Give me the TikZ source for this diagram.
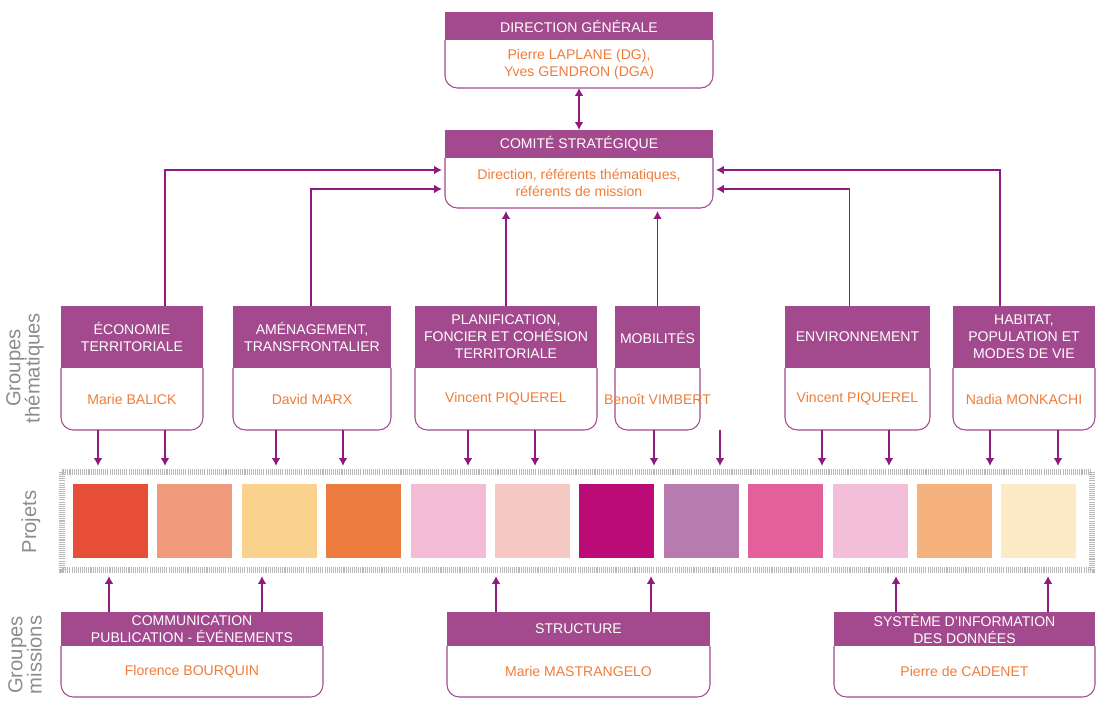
\documentclass[tikz,border=0pt]{standalone}
\usepackage{fontspec}
\setmainfont{Liberation Sans}
\usetikzlibrary{arrows.meta,calc}
\definecolor{mauve}{HTML}{A34A8E}
\definecolor{lien}{HTML}{8E1C7E}
\definecolor{orangep}{HTML}{EE7D3A}
\definecolor{grisl}{HTML}{8C8C8C}

% boite : nom, x gauche, x droite, haut, bas du titre, bas, titre, responsable
\newcommand{\orgbox}[8]{%
	\fill[mauve] (#2,#4) rectangle (#3,#5);
	\draw[mauve,line width=0.6pt,rounded corners=7pt] (#2,#5) -- (#2,#6) -- (#3,#6) -- (#3,#5);
	\node[head] at ({(#2+#3)/2},{(#4+#5)/2}) {#7};
	\node[who] at ({(#2+#3)/2},{(#5+#6)/2}) {#8};
	\coordinate (#1t) at ({(#2+#3)/2},#4);
	\coordinate (#1b) at ({(#2+#3)/2},#6);
	\coordinate (#1w) at (#2,{(#5+#6)/2});
	\coordinate (#1e) at (#3,{(#5+#6)/2});
}

\begin{document}
\begin{tikzpicture}[x=0.02cm,y=-0.02cm,>={Latex[length=4.5pt,width=5pt]},
	every node/.style={font=\fontsize{8}{9.6}\selectfont},
	head/.style={text=white,align=center},
	who/.style={text=orangep,align=center},
	arr/.style={lien,line width=1.1pt},
	side/.style={text=grisl,rotate=90,align=center,font=\fontsize{11.5}{11}\selectfont}]

\useasboundingbox (0,0) rectangle (1110,716);

%%%%%%%%%%%%%%%%%%%%%%%%%%%%%%%%%%%%%%

\orgbox{dg}{445}{713}{12}{40}{88}{DIRECTION GÉNÉRALE}{Pierre LAPLANE (DG),\\Yves GENDRON (DGA)}
\orgbox{cs}{445}{713}{130}{158}{208}{COMITÉ STRATÉGIQUE}{Direction, référents thématiques,\\référents de mission}

\draw[arr,<->] (dgb) -- (cst);

%%%%%%%%%%%%%%%%%%%%%%%%%%%%%%%%%%%%%%

\orgbox{t1}{61}{203}{306}{368}{430}{ÉCONOMIE\\TERRITORIALE}{Marie BALICK}
\orgbox{t2}{233}{391}{306}{368}{430}{AMÉNAGEMENT,\\TRANSFRONTALIER}{David MARX}
\orgbox{t3}{415}{597}{306}{368}{430}{PLANIFICATION,\\FONCIER ET COHÉSION\\TERRITORIALE}{Vincent PIQUEREL}
\orgbox{t4}{615}{700}{306}{368}{430}{MOBILITÉS}{Benoît VIMBERT}
\orgbox{t5}{785}{930}{306}{368}{430}{ENVIRONNEMENT}{Vincent PIQUEREL}
\orgbox{t6}{953}{1095}{306}{368}{430}{HABITAT,\\POPULATION  ET\\MODES DE VIE}{Nadia MONKACHI}

\draw[arr,->] ($(t1t)+(33,0)$) |- ($(csw)+(-3,-13)$);
\draw[arr,->] ($(t2t)+(-1,0)$) |- ($(csw)+(-3,6)$);
\draw[arr,->] (t3t) -- ($(t3t|-csb)+(0,3)$);
\draw[arr,->] (t4t) -- ($(t4t|-csb)+(0,3)$);
\draw[arr,->] ($(t5t)+(-8,0)$) |- ($(cse)+(3,6)$);
\draw[arr,->] ($(t6t)+(-24,0)$) |- ($(cse)+(3,-13)$);

%%%%%%%%%%%%%%%%%%%%%%%%%%%%%%%%%%%%%%

\draw[gray!55,line width=3pt,dash pattern=on 0.6pt off 0.6pt] (62,472) rectangle (1092,570);
\coordinate (pn) at (577,466);
\coordinate (ps) at (577,576);

\foreach \c [count=\i from 0] in {E64E37,EF9A7B,FAD28D,EC7B3F,F4BBD5,F6C8C4,BB0B77,B87BAF,E3609B,F3BED8,F5B27C,FDEBC7} {
	\definecolor{projet}{HTML}{\c}
	\fill[projet] ({73+84.4*\i},484) rectangle +(75,74);
}

\foreach \n/\a/\b in {t1/98/165,t2/276/343,t3/468/535,t4/654/720,t5/822/889,t6/990/1058} {
	\coordinate (xa) at (\a,0);
	\coordinate (xb) at (\b,0);
	\draw[arr,->] (\n b-|xa) -- (pn-|xa);
	\draw[arr,->] (\n b-|xb) -- (pn-|xb);
}

%%%%%%%%%%%%%%%%%%%%%%%%%%%%%%%%%%%%%%

\orgbox{m1}{61}{323}{612}{646}{697}{COMMUNICATION\\PUBLICATION - ÉVÉNEMENTS}{Florence BOURQUIN}
\orgbox{m2}{447}{710}{612}{646}{697}{STRUCTURE}{Marie MASTRANGELO}
\orgbox{m3}{834}{1095}{612}{646}{697}{SYSTÈME D’INFORMATION\\DES DONNÉES}{Pierre de CADENET}

\foreach \n/\a/\b in {m1/109/262,m2/496/651,m3/896/1048} {
	\coordinate (xa) at (\a,0);
	\coordinate (xb) at (\b,0);
	\draw[arr,->] (\n t-|xa) -- (ps-|xa);
	\draw[arr,->] (\n t-|xb) -- (ps-|xb);
}

%%%%%%%%%%%%%%%%%%%%%%%%%%%%%%%%%%%%%%

\node[side] (lg1) at (25,368) {Groupes\\thématiques};
\node[side] (lg2) at (31,522) {Projets};
\node[side] (lg3) at (25,655) {Groupes\\missions};

\end{tikzpicture}
\end{document}
